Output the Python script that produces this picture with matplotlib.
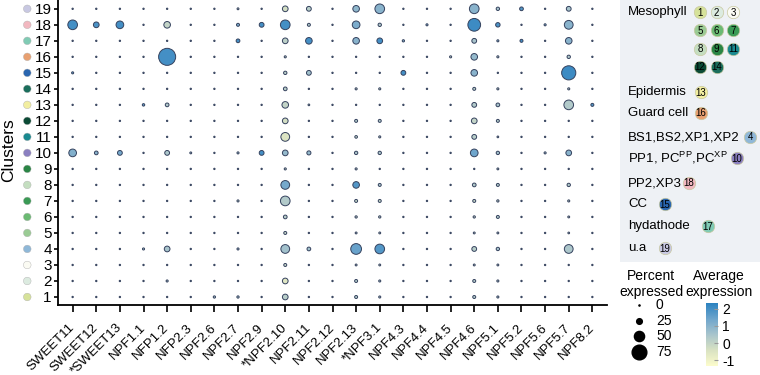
import numpy as np
import matplotlib
matplotlib.use("Agg")
import matplotlib.pyplot as plt
from matplotlib.colors import LinearSegmentedColormap, Normalize
from matplotlib.transforms import blended_transform_factory, ScaledTranslation
from matplotlib.patches import Rectangle
import matplotlib.cm as cm

plt.rcParams['font.family'] = ['Liberation Sans', 'DejaVu Sans']
plt.rcParams['axes.unicode_minus'] = False

# genes on the x axis
genes = ["SWEET11", "SWEET12", "*SWEET13", "NPF1.1", "NFP1.2", "NFP2.3", "NPF2.6",
         "NPF2.7", "NPF2.9", "*NPF2.10", "NPF2.11", "NPF2.12", "NPF2.13", "*NPF3.1",
         "NPF4.3", "NPF4.4", "NPF4.5", "NPF4.6", "NPF5.1", "NPF5.2", "NPF5.6",
         "NPF5.7", "NPF8.2"]

clusters = list(range(1, 20))
cluster_colors = ["#d6e29a", "#dcebe0", "#fbfbf3", "#8fb8d8", "#9acb94", "#6bba73",
                  "#3a9a55", "#c4dec0", "#2a8545", "#8a7fc0", "#1a8a90", "#0b4a35",
                  "#f2eea0", "#1a6e5c", "#2a66b0", "#e8a070", "#80cbb4", "#f2b8c0",
                  "#c8c8e2"]

# percent expressed, one row per cluster (1..19)
pct = [
    [1, 1, 1, 1, 1, 1, 6, 6, 1, 25, 1, 1, 10, 5, 1, 1, 1, 10, 5, 1, 1, 1, 1],
    [1, 1, 1, 1, 5, 1, 1, 1, 1, 25, 1, 1, 10, 5, 1, 1, 1, 10, 5, 1, 1, 1, 1],
    [1, 1, 1, 1, 1, 1, 1, 1, 1, 10, 1, 1, 4, 4, 1, 1, 1, 4, 4, 1, 1, 1, 1],
    [1, 1, 1, 5, 25, 1, 1, 5, 1, 42, 14, 1, 53, 47, 1, 1, 1, 20, 12, 1, 1, 42, 1],
    [1, 1, 1, 1, 1, 1, 1, 1, 1, 10, 1, 1, 4, 4, 1, 1, 1, 4, 4, 1, 1, 3, 1],
    [1, 1, 1, 1, 1, 1, 1, 1, 1, 14, 1, 1, 6, 6, 1, 1, 1, 6, 10, 1, 1, 4, 1],
    [1, 1, 1, 1, 1, 1, 1, 5, 1, 47, 1, 1, 10, 10, 1, 1, 1, 10, 6, 1, 1, 5, 1],
    [1, 1, 1, 1, 1, 1, 1, 1, 1, 42, 1, 1, 30, 10, 1, 1, 1, 14, 10, 1, 1, 12, 1],
    [1, 1, 1, 1, 1, 1, 1, 1, 1, 5, 1, 1, 5, 1, 1, 1, 1, 1, 4, 1, 1, 1, 1],
    [36, 14, 20, 1, 20, 4, 1, 5, 20, 25, 16, 1, 12, 12, 1, 1, 1, 36, 12, 1, 5, 25, 1],
    [1, 1, 1, 1, 1, 1, 1, 1, 1, 42, 1, 1, 8, 5, 1, 1, 1, 20, 3, 1, 1, 1, 1],
    [1, 1, 1, 1, 1, 1, 1, 1, 1, 25, 1, 1, 10, 10, 1, 1, 1, 25, 10, 1, 1, 1, 1],
    [1, 1, 1, 7, 14, 1, 1, 1, 1, 30, 3, 1, 1, 1, 1, 1, 1, 20, 14, 1, 1, 47, 10],
    [1, 1, 1, 1, 1, 1, 1, 1, 1, 14, 1, 1, 5, 5, 1, 1, 1, 10, 5, 1, 1, 5, 1],
    [5, 1, 1, 1, 1, 1, 1, 1, 1, 12, 20, 1, 1, 1, 20, 1, 1, 30, 1, 1, 1, 72, 1],
    [1, 1, 1, 1, 88, 1, 1, 1, 1, 5, 1, 1, 1, 1, 1, 1, 5, 30, 5, 1, 1, 12, 1],
    [1, 1, 1, 1, 1, 1, 1, 14, 1, 25, 30, 1, 30, 25, 6, 1, 1, 20, 5, 10, 1, 30, 1],
    [47, 25, 36, 1, 30, 1, 1, 10, 20, 47, 10, 1, 36, 12, 1, 5, 1, 64, 18, 1, 5, 42, 1],
    [1, 1, 1, 1, 1, 1, 1, 4, 1, 25, 20, 1, 30, 47, 1, 1, 1, 47, 12, 14, 1, 20, 1],
]

# average expression, same layout
avg = [
    [0, 0, 0, 0, 0, 0, 0.5, 0.5, 0, 0.2, 0, 0, 0.3, 0.3, 0, 0, 0, 0.3, 0.3, 0, 0, 0, 0],
    [0, 0, 0, 0, 0.5, 0, 0, 0, 0, -0.6, 0, 0, 0.3, 0.3, 0, 0, 0, 0.3, 0.3, 0, 0, 0, 0],
    [0, 0, 0, 0, 0, 0, 0, 0, 0, 0, 0, 0, 0, 0, 0, 0, 0, 0, 0, 0, 0, 0, 0],
    [0, 0, 0, 0.5, 0.5, 0, 0, 0.5, 0, 0.6, 0.6, 0, 1.5, 1.8, 0, 0, 0, 0.2, 0.5, 0, 0, 0.4, 0],
    [0, 0, 0, 0, 0, 0, 0, 0, 0, 0, 0, 0, 0, 0, 0, 0, 0, 0, 0, 0, 0, 0, 0],
    [0, 0, 0, 0, 0, 0, 0, 0, 0, 0.2, 0, 0, 0, 0, 0, 0, 0, 0, 0.3, 0, 0, 0, 0],
    [0, 0, 0, 0, 0, 0, 0, 0, 0, 0.3, 0, 0, 0, 0, 0, 0, 0, 0, 0, 0, 0, 0, 0],
    [0, 0, 0, 0, 0, 0, 0, 0, 0, 1.3, 0, 0, 1.8, 0.4, 0, 0, 0, 0.3, 0.3, 0, 0, 0.3, 0],
    [0, 0, 0, 0, 0, 0, 0, 0, 0, 0, 0, 0, 0, 0, 0, 0, 0, 0, 0, 0, 0, 0, 0],
    [1.1, 1.0, 1.3, 0, 0.4, 0.5, 0, 0.5, 2.0, 0.8, 0.8, 0, 0.4, 0.4, 0, 0, 0, 1.4, 0.6, 0, 0.5, 1.0, 0],
    [0, 0, 0, 0, 0, 0, 0, 0, 0, -0.5, 0, 0, 0, 0, 0, 0, 0, 0.2, 0, 0, 0, 0, 0],
    [0, 0, 0, 0, 0, 0, 0, 0, 0, -0.3, 0, 0, 0.3, 0.3, 0, 0, 0, 0.0, 0.3, 0, 0, 0, 0],
    [0, 0, 0, 1.5, 0.3, 0, 0, 0, 0, 0.0, 0, 0, 0, 0, 0, 0, 0, 0.3, 0.5, 0, 0, 0.3, 1.8],
    [0, 0, 0, 0, 0, 0, 0, 0, 0, 0.2, 0, 0, 0, 0, 0, 0, 0, 0.2, 0, 0, 0, 0, 0],
    [1.5, 0, 0, 0, 0, 0, 0, 0, 0, 0.2, 0.6, 0, 0, 0, 2.0, 0, 0, 1.0, 0, 0, 0, 2.1, 0],
    [0, 0, 0, 0, 2.0, 0, 0, 0, 0, 0, 0, 0, 0, 0, 0, 0, 0, 0.8, 0, 0, 0, 0.3, 0],
    [0, 0, 0, 0, 0, 0, 0, 2.0, 0, 0.1, 2.0, 0, 1.0, 2.0, 1.0, 0, 0, 0.5, 1.0, 2.0, 0, 1.0, 0],
    [2.0, 1.9, 2.0, 0, 0.0, 0, 0, 1.2, 2.0, 2.0, 0.3, 0, 1.2, 0.3, 0, 1.0, 0, 2.1, 1.9, 0, 1.0, 1.0, 0],
    [0, 0, 0, 0, 0, 0, 0, 0, 0, -0.3, 0.2, 0, 0.9, 1.0, 0, 0, 0, 1.0, 0.5, 1.8, 0, 0.5, 0],
]

size_legend_vals = [0, 25, 50, 75]
cbar_ticks = [-1, 0, 1, 2]

# legend panel groups: label, cluster ids
legend_groups = [
    ("Mesophyll", [1, 2, 3, 5, 6, 7, 8, 9, 11, 12, 14]),
    ("Epidermis", [13]),
    ("Guard cell", [16]),
    ("BS1,BS2,XP1,XP2", [4]),
    ("PP1, PC$^{\\mathregular{PP}}$,PC$^{\\mathregular{XP}}$", [10]),
    ("PP2,XP3", [18]),
    ("CC", [15]),
    ("hydathode", [17]),
    ("u.a", [19]),
]
# text y and circle x in pixels for each group
legend_text_y = [12, 92, 113, 137, 158, 183, 204, 226, 248]
legend_circ_x = [700, 701, 701, 750, 737, 689, 665, 708, 665]

W, H = 760, 375
cmap = LinearSegmentedColormap.from_list(
    "avg", ["#fcfccc", "#d9e2c2", "#a8c4cc", "#6ea5cc", "#2b82c0"])
norm = Normalize(vmin=-1.35, vmax=2.35)


def dot_size(p):
    d_px = 1.2 + 0.18 * np.asarray(p, dtype=float)
    return (d_px * 72 / 100) ** 2


fig = plt.figure(figsize=(W / 100, H / 100), dpi=100)

# overlay in pixel coordinates for legend panel
ov = fig.add_axes([0, 0, 1, 1])
ov.set_xlim(0, W)
ov.set_ylim(H, 0)
ov.axis("off")

ax = fig.add_axes([58 / W, 1 - 305 / H, (607 - 58) / W, 305 / H])

P = np.array(pct)
A = np.array(avg)
xx, yy = np.meshgrid(np.arange(1, len(genes) + 1), clusters)
ax.scatter(xx.ravel(), yy.ravel(), s=dot_size(P.ravel()), c=A.ravel(),
           cmap=cmap, norm=norm, edgecolors="#35425e", linewidths=0.7, zorder=3)

ax.set_xlim(0.38, 23.62)
ax.set_ylim(0.5, 19.55)
ax.set_xticks(np.arange(1, len(genes) + 1))
ax.set_xticklabels(genes, rotation=45, ha="right", va="center",
                   rotation_mode="anchor", fontsize=9.5)
shift = ScaledTranslation(-5 / 100, 0, fig.dpi_scale_trans)
for lab in ax.get_xticklabels():
    lab.set_transform(lab.get_transform() + shift)
ax.set_yticks(clusters)
ax.set_yticklabels([str(c) for c in clusters], fontsize=11)
ax.tick_params(axis="x", length=5, width=1.2, pad=10)
ax.tick_params(axis="y", length=3, width=1.2, pad=1.5)
for s in ["top", "right"]:
    ax.spines[s].set_visible(False)
for s in ["left", "bottom"]:
    ax.spines[s].set_linewidth(1.3)
ax.set_ylabel("Clusters", fontsize=12.5)
ax.yaxis.set_label_coords(-0.0765, 0.508)

# colored markers next to cluster ticks
tr = blended_transform_factory(ax.transAxes, ax.transData)
ax.scatter([-0.056] * len(clusters), clusters, s=30, c=cluster_colors,
           edgecolors="#b0b0b0", linewidths=0.3, transform=tr, clip_on=False)

# legend panel
ov.add_patch(Rectangle((620, 0), 140, 262, facecolor="#eef1f5", edgecolor="none"))
for (label, ids), ty, cx in zip(legend_groups, legend_text_y, legend_circ_x):
    ov.text(628, ty, label, fontsize=9.5, va="center", ha="left")
    for i, cid in enumerate(ids):
        px = cx + (i % 3) * 16.5
        py = ty + (i // 3) * 18.3
        ov.scatter(px, py, s=80, color=cluster_colors[cid - 1],
                   edgecolors="#c8c8a0", linewidths=0.5, zorder=3)
        ov.text(px, py + 0.5, str(cid), fontsize=7, ha="center", va="center", zorder=4)

# size legend
ov.text(651, 276, "Percent", fontsize=10, ha="center", va="center")
ov.text(651, 292, "expressed", fontsize=10, ha="center", va="center")
for i, v in enumerate(size_legend_vals):
    y = 305 + i * 15.7
    ov.scatter(639, y, s=dot_size(v), color="black")
    ov.text(656, y, str(v), fontsize=10, ha="left", va="center")

ov.text(719, 276, "Average", fontsize=10, ha="center", va="center")
ov.text(719, 292, "expression", fontsize=10, ha="center", va="center")

cax = fig.add_axes([706 / W, 1 - 366 / H, 12 / W, 63 / H])
cb = fig.colorbar(cm.ScalarMappable(norm=norm, cmap=cmap), cax=cax, ticks=cbar_ticks)
cb.outline.set_visible(False)
cax.tick_params(direction="in", length=3, color="#999999", labelsize=10, pad=3)

fig.savefig("out.png", dpi=100)
